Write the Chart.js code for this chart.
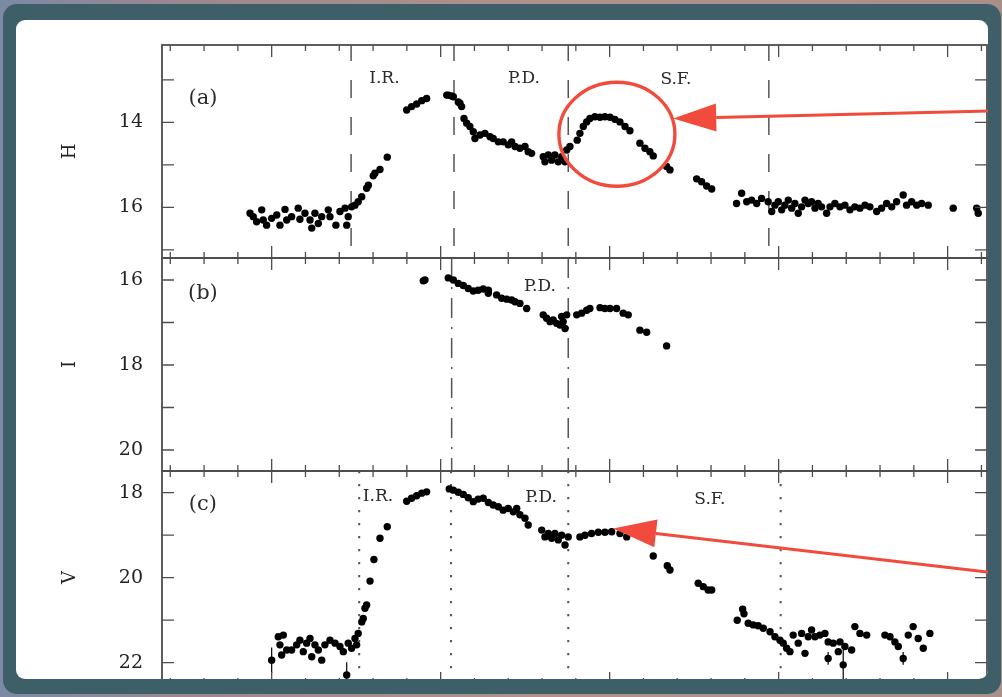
<!DOCTYPE html>
<html>
<head>
<meta charset="utf-8">
<title>H, I, V light curves</title>
<script src="https://cdn.jsdelivr.net/npm/chart.js@4.4.1/dist/chart.umd.min.js"></script>
<style>
  html, body { margin: 0; padding: 0; }
  body {
    width: 1002px; height: 697px; overflow: hidden; position: relative;
    background: linear-gradient(90deg, #7b8aa4 0%, #9a8790 18%, #b0928a 55%, #a98f8a 100%);
  }
  #frame {
    position: absolute; left: 3px; top: 4px; width: 998px; height: 690px;
    background: #3e5f67; border-radius: 14px;
  }
  #paper {
    position: absolute; left: 16px; top: 20px; width: 972px; height: 659px;
    background: #fff; border-radius: 9px; overflow: hidden;
  }
  #paper canvas { position: absolute; left: -16px; }
</style>
</head>
<body>
<div id="frame"></div>
<div id="paper">
  <canvas id="panel-a" width="1002" height="266" style="top:-20px"></canvas>
  <canvas id="panel-b" width="1002" height="229" style="top:230px"></canvas>
  <canvas id="panel-c" width="1002" height="234" style="top:443px"></canvas>
</div>
<script>
// time axis (days), ticks every 20, long ticks every 100
const X_MIN = 35.1, X_MAX = 523.3;
const X_MINOR = 20, X_MAJOR = 100;

// H band [day, mag]
const hLight = [
  [87.2,16.14],[89.1,16.22],[91.1,16.34],[94.1,16.06],[95.0,16.30],[97.0,16.42],[100.0,16.26],
  [103.0,16.18],[104.9,16.42],[107.9,16.05],[108.9,16.30],[111.8,16.22],[115.7,16.02],[116.7,16.28],
  [119.7,16.14],[122.7,16.30],[123.7,16.49],[125.6,16.14],[127.6,16.38],[129.6,16.22],[133.5,16.06],
  [134.5,16.22],[138.0,16.42],[140.4,16.10],[143.4,16.02],[144.4,16.42],[145.3,16.22],[147.3,15.99],
  [149.3,15.95],[151.2,15.87],[153.3,15.75],
  [156.2,15.55],[157.2,15.48],[160.1,15.26],[161.1,15.20],[164.1,15.11],[168.4,14.82],
  [179.9,13.71],[182.8,13.63],[185.8,13.57],[188.8,13.49],[191.7,13.44],
  [203.6,13.36],[204.5,13.36],[206.5,13.38],[207.5,13.40],[210.4,13.52],[211.4,13.55],[212.4,13.63],
  [213.8,13.91],[215.4,14.02],[217.3,14.10],[219.3,14.22],[220.3,14.38],[223.3,14.30],[226.2,14.26],
  [229.2,14.34],[231.1,14.38],[234.1,14.46],[237.0,14.46],[240.0,14.53],[242.0,14.46],[244.0,14.57],
  [246.9,14.61],[249.9,14.57],[251.8,14.69],[253.8,14.73],
  [260.7,14.81],[261.7,14.93],[263.7,14.77],[265.7,14.89],[267.6,14.77],[269.6,14.93],[271.6,14.81],
  [273.6,14.93],[274.6,14.65],[276.5,14.57],
  [280.8,14.42],[282.4,14.26],[284.4,14.10],[286.4,13.99],[288.3,13.91],[291.3,13.87],[294.3,13.88],
  [297.2,13.87],[300.2,13.88],[303.1,13.93],[306.1,13.99],[309.1,14.10],[312.0,14.20],[317.9,14.49],
  [320.9,14.61],[323.8,14.69],[325.8,14.79],[333.7,15.04],[335.7,15.12],
  [351.5,15.33],[354.4,15.40],[357.4,15.50],[360.4,15.57],
  [375.1,15.91],[378.1,15.67],[381.1,15.87],[384.0,15.83],[387.0,15.91],[389.9,15.79],[393.8,15.87],
  [395.9,16.10],[397.8,15.95],[399.8,15.87],[401.8,16.06],[403.7,15.95],[405.7,15.83],[407.7,16.02],
  [409.6,15.91],[411.6,16.14],[413.6,15.99],[415.6,15.83],[417.5,15.91],[419.5,15.87],[421.5,16.02],
  [423.4,15.91],[425.4,15.99],[428.4,16.14],[430.4,15.99],[433.3,15.91],[436.3,15.99],[439.2,15.95],
  [442.2,16.06],[445.1,15.99],[448.1,16.02],[451.1,15.95],[454.0,15.99],[458.0,16.10],[460.9,16.02],
  [463.9,15.91],[466.9,15.99],[469.8,15.87],[473.7,15.71],[475.7,15.95],[478.7,15.87],[481.7,15.95],
  [484.6,15.91],[488.5,15.95],[503.3,16.02],[517.2,16.02],[518.1,16.14]
];

// I band [day, mag]
const iLight = [
  [189.7,16.02],[190.7,16.00],[204.5,15.95],[207.5,16.00],[210.4,16.08],[213.4,16.13],[216.3,16.20],
  [219.3,16.26],[222.2,16.24],[225.2,16.21],[228.2,16.24],[228.2,16.31],[233.1,16.35],[236.1,16.43],
  [239.1,16.45],[242.0,16.47],[244.0,16.51],[246.9,16.55],[250.9,16.67],[260.7,16.82],[262.7,16.90],
  [264.7,16.98],[266.6,16.94],[268.6,17.02],[270.6,17.06],[271.6,16.86],[272.5,16.98],[273.6,17.14],
  [274.6,16.82],[280.5,16.82],[283.4,16.78],[286.4,16.71],[288.3,16.67],[294.3,16.65],[297.2,16.67],
  [300.2,16.67],[304.1,16.67],[308.0,16.78],[311.0,16.82],[317.9,17.18],[321.9,17.23],[333.7,17.55]
];

// V band [day, mag]
const vLight = [
  [100.0,21.94],[103.9,21.39],[104.9,21.58],[105.9,21.82],[106.9,21.35],[108.9,21.70],[111.8,21.70],
  [114.8,21.58],[116.7,21.47],[118.7,21.74],[120.7,21.54],[122.7,21.43],[123.7,21.86],[125.6,21.58],
  [127.6,21.70],[129.6,21.94],[131.5,21.58],[134.5,21.47],[137.5,21.54],[140.4,21.62],[142.4,21.74],
  [144.4,22.29],[145.3,21.54],[147.3,21.66],[149.3,21.43],[150.3,21.58],[151.2,21.31],
  [153.3,21.04],[154.2,20.96],[155.2,20.72],[156.2,20.64],[158.2,20.08],[160.5,19.57],[164.1,19.07],
  [168.4,18.80],
  [179.9,18.20],[182.8,18.13],[185.8,18.07],[188.8,18.01],[191.7,17.98],
  [205.1,17.91],[207.5,17.94],[210.4,17.99],[213.4,18.04],[216.3,18.12],[219.3,18.21],[222.2,18.15],
  [225.2,18.13],[228.2,18.23],[231.1,18.29],[234.1,18.33],[237.0,18.41],[240.0,18.37],[243.0,18.45],
  [245.0,18.37],[246.9,18.52],[249.9,18.60],[251.8,18.76],
  [259.8,18.88],[261.7,19.04],[263.7,18.96],[265.7,19.07],[267.6,18.96],[269.6,19.11],[271.6,19.00],
  [273.6,19.23],[275.5,19.04],
  [282.4,19.04],[285.4,19.00],[289.3,18.96],[293.3,18.93],[297.2,18.93],[301.2,18.92],[306.1,18.96],
  [310.1,19.04],
  [325.8,19.49],[334.1,19.72],[335.7,19.82],[352.4,20.13],[355.4,20.21],[358.3,20.29],[360.4,20.29],
  [375.5,21.00],[378.7,20.74],[379.5,20.85],[382.0,21.07],[385.0,21.11],[387.9,21.13],[390.9,21.19],
  [394.9,21.27],[397.8,21.39],[400.8,21.47],[402.7,21.54],[404.7,21.66],[406.7,21.74],[408.6,21.35],
  [411.6,21.54],[413.6,21.31],[415.6,21.78],[417.5,21.39],[419.5,21.23],[421.5,21.39],[424.4,21.35],
  [427.4,21.31],[429.3,21.51],[429.3,21.90],[432.3,21.54],[435.3,21.74],[436.3,21.51],[438.2,22.05],
  [439.2,21.62],[443.2,21.70],[445.1,21.15],[448.1,21.31],[452.1,21.35],[462.9,21.35],[465.9,21.39],
  [468.8,21.51],[470.8,21.62],[473.7,21.90],[476.7,21.35],[479.6,21.15],[482.6,21.43],[485.6,21.66],
  [489.5,21.31]
];

// V error bars [day, mag, sigma]
const vErrors = [[100.0,21.94,0.3],[144.4,22.29,0.3],[429.3,21.90,0.15],[438.2,22.05,0.35],[473.7,21.90,0.15]];

// phase boundaries (days)
const hPhases = [147.0, 207.9, 275.5, 394.2];
const iPhases = [206.5, 275.5];
const vPhases = [151.8, 206.1, 275.5, 401.2];

// labelled magnitudes on each axis
const hTicks = [14, 16];
const iTicks = [16, 18, 20];
const vTicks = [18, 20, 22];

// phase names [text, day, mag]
const hNotes = [["I.R.", 166.7, 12.97], ["P.D.", 249.3, 12.97], ["S.F.", 339.2, 12.99]];
const iNotes = [["P.D.", 258.8, 16.16]];
const vNotes = [["I.R.", 162.9, 18.09], ["P.D.", 259.4, 18.12], ["S.F.", 359.3, 18.15]];

const SERIF = "'DejaVu Serif', serif";
const RED = '#f04b3c';

Chart.defaults.font.family = SERIF;

function drawArrow(ctx, x0, y0, x1, y1) {
  const ang = Math.atan2(y1 - y0, x1 - x0);
  const hl = 43, hw = 14;
  const bx = x1 - hl * Math.cos(ang), by = y1 - hl * Math.sin(ang);
  ctx.beginPath(); ctx.moveTo(x0, y0); ctx.lineTo(bx, by); ctx.stroke();
  ctx.beginPath();
  ctx.moveTo(x1, y1);
  ctx.lineTo(bx + hw * Math.sin(ang), by - hw * Math.cos(ang));
  ctx.lineTo(bx - hw * Math.sin(ang), by + hw * Math.cos(ang));
  ctx.closePath(); ctx.fill();
}

// frame, inward ticks, phase lines, labels and the red marks
function panelDecor(extra) {
  return {
    id: 'panelDecor',
    beforeDatasetsDraw(chart) {
      const { ctx, chartArea: a, scales: { x, y } } = chart;
      ctx.save();
      ctx.strokeStyle = '#555';
      ctx.lineWidth = extra.lineWidth;
      ctx.setLineDash(extra.dash);
      ctx.lineDashOffset = extra.dashOffset || 0;
      extra.phases.forEach(v => {
        const px = x.getPixelForValue(v);
        ctx.beginPath(); ctx.moveTo(px, a.top); ctx.lineTo(px, a.bottom); ctx.stroke();
      });
      ctx.setLineDash([]);

      ctx.strokeStyle = '#000'; ctx.lineWidth = 1.2;
      (extra.errors || []).forEach(([d, m, e]) => {
        const px = x.getPixelForValue(d);
        ctx.beginPath();
        ctx.moveTo(px, y.getPixelForValue(m - e));
        ctx.lineTo(px, y.getPixelForValue(m + e));
        ctx.stroke();
      });

      ctx.fillStyle = '#2b2b2b';
      ctx.textAlign = 'center';
      ctx.textBaseline = 'middle';
      ctx.font = '21px ' + SERIF;
      ctx.fillText(extra.letter, x.getPixelForValue(59.3), y.getPixelForValue(extra.letterAt));
      ctx.font = '17px ' + SERIF;
      extra.notes.forEach(([t, d, m]) => ctx.fillText(t, x.getPixelForValue(d), y.getPixelForValue(m)));
      ctx.restore();
    },
    afterDatasetsDraw(chart) {
      const { ctx, chartArea: a, scales: { x, y } } = chart;
      ctx.save();
      ctx.strokeStyle = '#4d4d4d';
      ctx.lineWidth = 1.8;
      ctx.strokeRect(a.left, a.top, a.width, a.height);
      ctx.lineWidth = 1.3;
      ctx.beginPath();
      for (let v = 40; v <= X_MAX; v += X_MINOR) {
        const px = x.getPixelForValue(v);
        const len = v % X_MAJOR === 0 ? 12 : 6;
        ctx.moveTo(px, a.top); ctx.lineTo(px, a.top + len);
        ctx.moveTo(px, a.bottom); ctx.lineTo(px, a.bottom - len);
      }
      for (let m = Math.ceil(y.min); m <= y.max; m++) {
        const py = y.getPixelForValue(m);
        ctx.moveTo(a.left, py); ctx.lineTo(a.left + 12, py);
        ctx.moveTo(a.right, py); ctx.lineTo(a.right - 12, py);
      }
      ctx.stroke();
      ctx.restore();
    },
    afterDraw(chart) {
      const { ctx, scales: { x, y } } = chart;
      const m = extra.marks;
      if (!m) return;
      ctx.save();
      ctx.strokeStyle = RED; ctx.fillStyle = RED;
      ctx.lineWidth = 3.4;
      if (m.circle) {
        const c = m.circle;
        ctx.beginPath();
        ctx.ellipse(x.getPixelForValue(c.d), y.getPixelForValue(c.m), c.rx, c.ry, 0, 0, Math.PI * 2);
        ctx.stroke();
      }
      ctx.lineWidth = 3;
      (m.arrows || []).forEach(ar => drawArrow(ctx,
        x.getPixelForValue(ar.from[0]), y.getPixelForValue(ar.from[1]),
        x.getPixelForValue(ar.to[0]), y.getPixelForValue(ar.to[1])));
      ctx.restore();
    }
  };
}

function makePanel(id, opts) {
  const ctx = document.getElementById(id).getContext('2d');
  return new Chart(ctx, {
    type: 'scatter',
    data: {
      datasets: [{
        data: opts.points.map(([d, m]) => ({ x: d, y: m })),
        pointRadius: 3.7,
        pointBackgroundColor: '#000',
        pointBorderWidth: 0,
        showLine: false
      }]
    },
    options: {
      responsive: false,
      animation: false,
      devicePixelRatio: 1,
      events: [],
      layout: { padding: { left: 0, right: 15, top: opts.padTop, bottom: opts.padBottom } },
      plugins: { legend: { display: false }, tooltip: { enabled: false } },
      scales: {
        x: { type: 'linear', min: X_MIN, max: X_MAX, display: false },
        y: {
          reverse: true,
          bounds: 'data',
          min: opts.min,
          max: opts.max,
          afterFit(s) {
            // fixed label column, and no extra room for the end labels
            s.width = 162;
            s.paddingTop = 0;
            s.paddingBottom = 0;
          },
          afterBuildTicks(s) { s.ticks = opts.ticks.map(v => ({ value: v })); },
          grid: { display: false, drawTicks: false },
          border: { display: false },
          ticks: { color: '#222', padding: 19, font: { family: SERIF, size: 19 } },
          title: {
            display: true, text: opts.band, color: '#222',
            font: { family: SERIF, size: 18 }, padding: { top: 60, bottom: 0 }
          }
        }
      }
    },
    plugins: [panelDecor(opts.decor)]
  });
}

document.addEventListener('DOMContentLoaded', () => {
  makePanel('panel-a', {
    points: hLight, band: 'H', min: 12.181, max: 17.193, ticks: hTicks, padTop: 45, padBottom: 8,
    decor: {
      phases: hPhases, dash: [18, 19], dashOffset: 2, lineWidth: 1.5,
      letter: '(a)', letterAt: 13.43, notes: hNotes,
      marks: {
        circle: { d: 304.3, m: 14.28, rx: 58, ry: 52 },
        arrows: [{ from: [531, 13.73], to: [337.6, 13.91] }]
      }
    }
  });
  makePanel('panel-b', {
    points: iLight, band: 'I', min: 15.482, max: 20.494, ticks: iTicks, padTop: 8, padBottom: 8,
    decor: {
      phases: iPhases, dash: [20, 9, 2, 9], lineWidth: 1.5,
      letter: '(b)', letterAt: 16.31, notes: iNotes
    }
  });
  makePanel('panel-c', {
    points: vLight, band: 'V', min: 17.489, max: 22.501, ticks: vTicks, padTop: 8, padBottom: 13,
    decor: {
      phases: vPhases, dash: [2.2, 10.8], lineWidth: 2,
      letter: '(c)', letterAt: 18.29, notes: vNotes, errors: vErrors,
      marks: { arrows: [{ from: [531, 19.90], to: [302.1, 18.84] }] }
    }
  });
});
</script>
</body>
</html>
